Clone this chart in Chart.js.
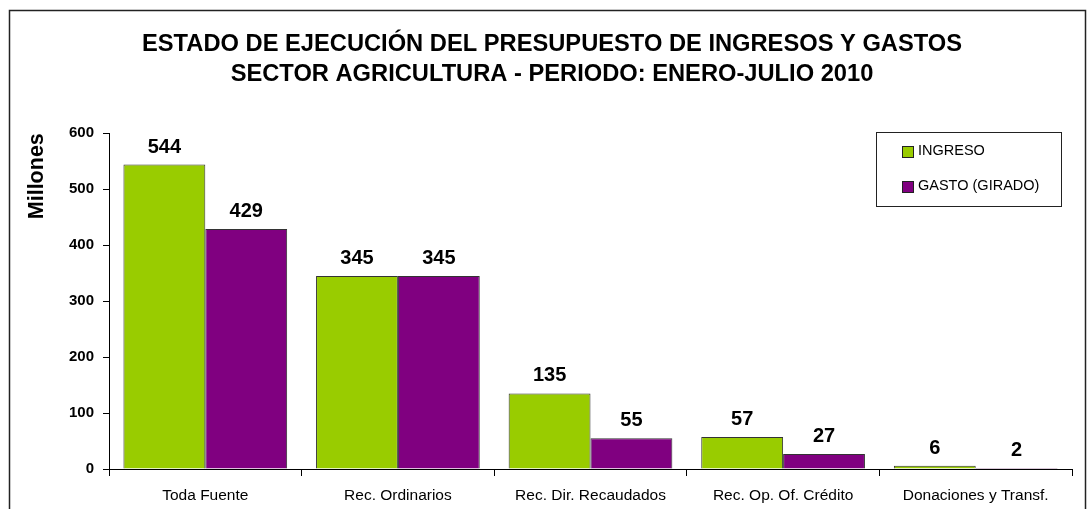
<!DOCTYPE html>
<html>
<head>
<meta charset="utf-8">
<script src="https://cdn.jsdelivr.net/npm/chart.js@4/dist/chart.umd.min.js"></script>
<style>
  body { margin: 0; background: #fff; }
  #caja { width: 1088px; height: 509px; }
</style>
</head>
<body>
<div id="caja"><canvas id="grafico" width="1088" height="509"></canvas></div>
<script>
const categorias = ["Toda Fuente", "Rec. Ordinarios", "Rec. Dir. Recaudados", "Rec. Op. Of. Crédito", "Donaciones y Transf."];
const ingreso = [544, 345, 135, 57, 6];
const gasto = [429, 345, 55, 27, 2];
const titulo = ["ESTADO DE EJECUCIÓN DEL PRESUPUESTO DE INGRESOS Y GASTOS", "SECTOR AGRICULTURA - PERIODO: ENERO-JULIO 2010"];

const fuente = "'Liberation Sans', Arial, sans-serif";

// marco exterior del grafico
const marco = {
    id: "marco",
    beforeDraw(chart) {
        const c = chart.ctx;
        c.save();
        c.fillStyle = "#fff";
        c.fillRect(0, 0, chart.width, chart.height);
        c.strokeStyle = "#222";
        c.lineWidth = 1.5;
        c.strokeRect(9.5, 10.5, 1076, 540);
        c.restore();
    }
};

// el titulo va un poco mas a la derecha que el centro del lienzo
const correrTitulo = {
    id: "correrTitulo",
    afterLayout(chart) {
        const t = chart.titleBlock;
        if (t) { t.left += 11; t.right += 11; }
    }
};

// etiquetas encima de cada barra
const etiquetas = {
    id: "etiquetas",
    afterDatasetsDraw(chart) {
        const c = chart.ctx;
        c.save();
        c.font = "bold 20px " + fuente;
        c.fillStyle = "#000";
        c.textAlign = "center";
        c.textBaseline = "alphabetic";
        chart.data.datasets.forEach((ds, i) => {
            chart.getDatasetMeta(i).data.forEach((bar, j) => {
                c.fillText(ds.data[j], bar.x, bar.y - 12);
            });
        });
        c.restore();
    }
};

// leyenda con recuadro
const leyenda = {
    id: "leyenda",
    afterDraw(chart) {
        const c = chart.ctx;
        c.save();
        c.strokeStyle = "#222";
        c.lineWidth = 1;
        c.fillStyle = "#fff";
        c.fillRect(876.5, 132.5, 185, 74);
        c.strokeRect(876.5, 132.5, 185, 74);
        c.font = "14.5px " + fuente;
        c.textBaseline = "middle";
        chart.data.datasets.forEach((ds, i) => {
            const y = 152 + i * 35;
            c.fillStyle = ds.backgroundColor;
            c.fillRect(902.5, y - 5.5, 11, 11);
            c.strokeStyle = "#222";
            c.strokeRect(902.5, y - 5.5, 11, 11);
            c.fillStyle = "#000";
            c.fillText(ds.label, 918, y - 1);
        });
        c.restore();
    }
};

new Chart(document.getElementById("grafico"), {
    type: "bar",
    data: {
        labels: categorias,
        datasets: [
            { label: "INGRESO", data: ingreso, backgroundColor: "#99CC00", borderColor: "#333", borderWidth: 1 },
            { label: "GASTO (GIRADO)", data: gasto, backgroundColor: "#800080", borderColor: "#333", borderWidth: 1 }
        ]
    },
    options: {
        responsive: false,
        animation: false,
        layout: { padding: { left: 10, right: 16, top: 0, bottom: 0 } },
        datasets: { bar: { categoryPercentage: 0.85, barPercentage: 1 } },
        plugins: {
            legend: { display: false },
            tooltip: { enabled: false },
            title: {
                display: true,
                text: titulo,
                color: "#000",
                font: { family: fuente, size: 23.7, weight: "bold", lineHeight: 1.27 },
                padding: { top: 29, bottom: 44 }
            }
        },
        scales: {
            x: {
                grid: { display: true, offset: true, drawOnChartArea: false, tickLength: 7, color: "#000" },
                border: { color: "#000", width: 1 },
                ticks: {
                    color: "#000",
                    padding: 10,
                    maxRotation: 0,
                    font: { family: fuente, size: 15.5 }
                },
                afterFit(s) { s.height = 40; }
            },
            y: {
                min: 0,
                max: 600,
                ticks: {
                    stepSize: 100,
                    color: "#000",
                    padding: 9,
                    font: { family: fuente, size: 15, weight: "bold" }
                },
                grid: { drawOnChartArea: false, tickLength: 6, color: "#000" },
                border: { color: "#000", width: 1 },
                title: {
                    display: true,
                    text: "Millones",
                    align: "end",
                    color: "#000",
                    font: { family: fuente, size: 21.5, weight: "bold" },
                    padding: { top: 14, bottom: 9 }
                },
                afterFit(s) { s.width = 99; }
            }
        }
    },
    plugins: [marco, correrTitulo, etiquetas, leyenda]
});
</script>
</body>
</html>
